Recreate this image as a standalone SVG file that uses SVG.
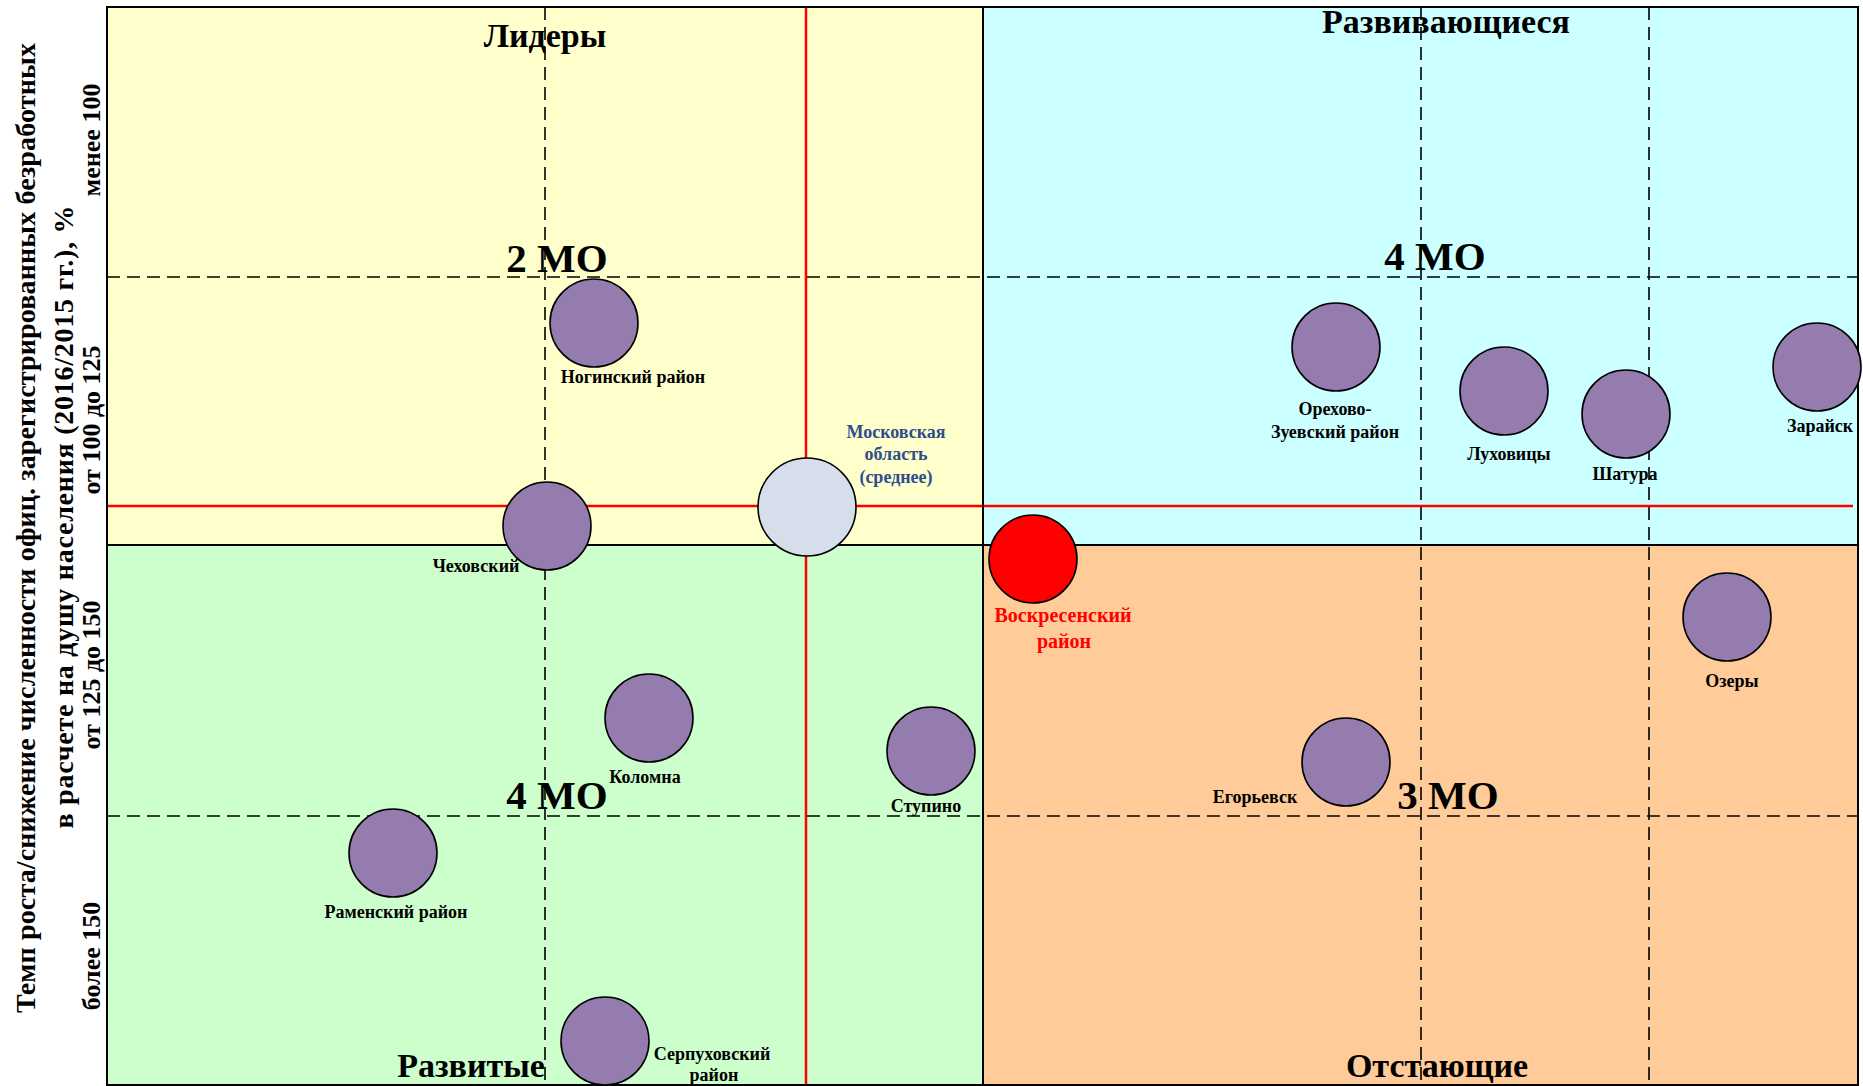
<svg xmlns="http://www.w3.org/2000/svg" width="1863" height="1086" viewBox="0 0 1863 1086">
<style>
text{font-family:"Liberation Serif","Times New Roman",serif;font-weight:bold;fill:#000}
.q{font-size:34px;text-anchor:middle}
.mo{font-size:41px;text-anchor:middle}
.lb{font-size:18px;text-anchor:middle}
.ax{font-size:28px;text-anchor:middle}
.cat{font-size:26px;text-anchor:middle}
.dash{stroke:#000;stroke-width:1.6;stroke-dasharray:13 7;fill:none}
.red{stroke:#FF0000;stroke-width:2.5;fill:none}
.bd{stroke:#000;stroke-width:2;fill:none}
.dot{fill:#947CAE;stroke:#000;stroke-width:1.6}
</style>
<rect width="1863" height="1086" fill="#fff"/>
<g id="quadrants">
<rect x="107" y="7" width="876" height="538" fill="#FFFFCC"/>
<rect x="983" y="7" width="875" height="538" fill="#CCFFFF"/>
<rect x="107" y="545" width="876" height="541" fill="#CCFFCC"/>
<rect x="983" y="545" width="875" height="541" fill="#FFCC99"/>
</g>
<g id="quadrant-titles">
<text class="q" x="545" y="47">Лидеры</text>
<text class="q" x="1446" y="33">Развивающиеся</text>
<text class="q" x="471" y="1077">Развитые</text>
<text class="q" x="1437" y="1077">Отстающие</text>
<text class="mo" x="557" y="272">2 МО</text>
<text class="mo" x="1435" y="270">4 МО</text>
<text class="mo" x="557" y="809">4 МО</text>
<text class="mo" x="1448" y="809">3 МО</text>
</g>
<g id="grid">
<line class="dash" x1="107" y1="277" x2="1858" y2="277"/>
<line class="dash" x1="107" y1="816" x2="1858" y2="816"/>
<line class="dash" x1="545" y1="7" x2="545" y2="1086"/>
<line class="dash" x1="1421" y1="7" x2="1421" y2="1086"/>
<line class="dash" x1="1649" y1="7" x2="1649" y2="1086"/>
<line class="red" x1="107" y1="506" x2="1853" y2="506"/>
<line class="red" x1="806" y1="7" x2="806" y2="1086"/>
<line class="bd" x1="107" y1="545" x2="1858" y2="545"/>
<line class="bd" x1="983" y1="7" x2="983" y2="1086"/>
<rect class="bd" x="107" y="7" width="1751" height="1078"/>
</g>
<g id="axis">
<text class="ax" transform="translate(35,528) rotate(-90)" textLength="970" lengthAdjust="spacing">Темп роста/снижение численности офиц. зарегистрированных безработных</text>
<text class="ax" transform="translate(73,517) rotate(-90)" textLength="623" lengthAdjust="spacing">в расчете на душу населения (2016/2015 гг.), %</text>
<text class="cat" transform="translate(100,140) rotate(-90)">менее 100</text>
<text class="cat" transform="translate(100,420) rotate(-90)">от 100 до 125</text>
<text class="cat" transform="translate(100,675) rotate(-90)">от 125 до 150</text>
<text class="cat" transform="translate(100,956) rotate(-90)">более 150</text>
</g>
<g id="noginsk"><circle class="dot" cx="594" cy="323" r="44"/><text class="lb" x="633" y="383">Ногинский район</text></g>
<g id="orekhovo"><circle class="dot" cx="1336" cy="347" r="44"/><text class="lb" x="1335" y="415">Орехово-</text><text class="lb" x="1335" y="438">Зуевский район</text></g>
<g id="lukhovitsy"><circle class="dot" cx="1504" cy="391" r="44"/><text class="lb" x="1509" y="460">Луховицы</text></g>
<g id="shatura"><circle class="dot" cx="1626" cy="414" r="44"/><text class="lb" x="1625" y="480">Шатура</text></g>
<g id="zaraysk"><circle class="dot" cx="1817" cy="367" r="44"/><text class="lb" x="1820" y="432">Зарайск</text></g>
<g id="moscow-region"><circle cx="807" cy="507" r="49" fill="#D5DEEA" stroke="#000" stroke-width="1.6"/><text class="lb" x="896" y="438" style="fill:#2E4D8C">Московская</text><text class="lb" x="896" y="460" style="fill:#2E4D8C">область</text><text class="lb" x="896" y="483" style="fill:#2E4D8C">(среднее)</text></g>
<g id="chekhov"><circle class="dot" cx="547" cy="526" r="44"/><text class="lb" x="476" y="572">Чеховский</text></g>
<g id="voskresensk"><circle cx="1033" cy="559" r="44" fill="#FF0000" stroke="#000" stroke-width="1.6"/><text class="lb" x="1063" y="622" style="fill:#FF0000;font-size:20px">Воскресенский</text><text class="lb" x="1064" y="648" style="fill:#FF0000;font-size:20px">район</text></g>
<g id="kolomna"><circle class="dot" cx="649" cy="718" r="44"/><text class="lb" x="645" y="783">Коломна</text></g>
<g id="stupino"><circle class="dot" cx="931" cy="751" r="44"/><text class="lb" x="926" y="812">Ступино</text></g>
<g id="egoryevsk"><circle class="dot" cx="1346" cy="762" r="44"/><text class="lb" x="1255" y="803">Егорьевск</text></g>
<g id="ozery"><circle class="dot" cx="1727" cy="617" r="44"/><text class="lb" x="1732" y="687">Озеры</text></g>
<g id="ramenskoye"><circle class="dot" cx="393" cy="853" r="44"/><text class="lb" x="396" y="918">Раменский район</text></g>
<g id="serpukhov"><circle class="dot" cx="605" cy="1041" r="44"/><text class="lb" x="712" y="1060">Серпуховский</text><text class="lb" x="714" y="1081">район</text></g>
</svg>
